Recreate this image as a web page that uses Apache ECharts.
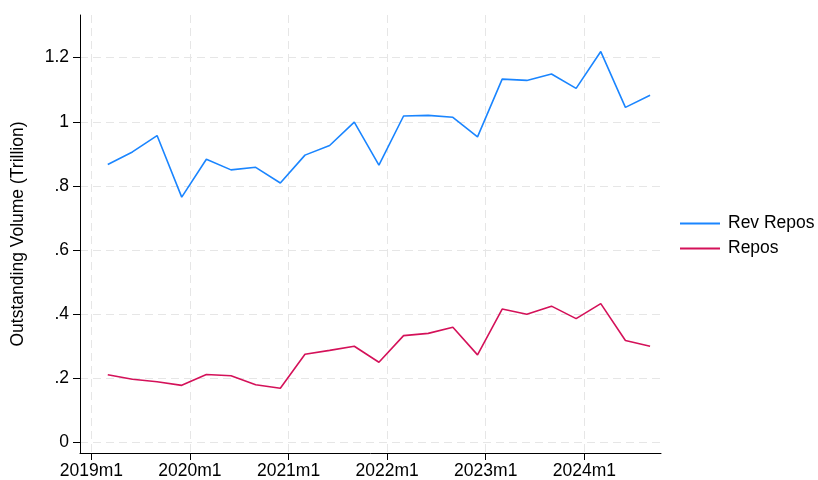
<!DOCTYPE html>
<html>
<head>
<meta charset="utf-8">
<script src="https://cdn.jsdelivr.net/npm/echarts@6/dist/echarts.min.js"></script>
<style>
    html, body {
        margin: 0;
        padding: 0;
        background: #fff;
    }

    #chart {
        width: 818px;
        height: 480px;
    }
</style>
</head>
<body>
<div id="chart"></div>
<script>
// quarter-end months, 2019m3 .. 2024m9
const periods = ['2019m3', '2019m6', '2019m9', '2019m12', '2020m3', '2020m6', '2020m9', '2020m12',
    '2021m3', '2021m6', '2021m9', '2021m12', '2022m3', '2022m6', '2022m9', '2022m12',
    '2023m3', '2023m6', '2023m9', '2023m12', '2024m3', '2024m6', '2024m9']

const revRepos = [0.867, 0.906, 0.957, 0.765, 0.883, 0.850, 0.858, 0.809,
    0.896, 0.926, 0.999, 0.865, 1.018, 1.020, 1.014, 0.953,
    1.133, 1.129, 1.149, 1.104, 1.219, 1.045, 1.083]

const repos = [0.211, 0.197, 0.189, 0.178, 0.212, 0.208, 0.180, 0.169,
    0.275, 0.287, 0.300, 0.250, 0.333, 0.340, 0.359, 0.273,
    0.416, 0.400, 0.425, 0.386, 0.433, 0.318, 0.300]

const xTickLabels = ['2019m1', '2020m1', '2021m1', '2022m1', '2023m1', '2024m1']
const yTickValues = [0, 0.2, 0.4, 0.6, 0.8, 1, 1.2]
const yTickLabels = ['0', '.2', '.4', '.6', '.8', '1', '1.2']

// months counted from 2019m1
const toMonth = (s) => {
    const [y, m] = s.split('m').map(Number)
    return (y - 2019) * 12 + (m - 1)
}

const xTickValues = xTickLabels.map(toMonth)
const xLabelMap = {}
xTickValues.forEach((v, i) => { xLabelMap[v] = xTickLabels[i] })
const yLabelMap = {}
yTickValues.forEach((v, i) => { yLabelMap[v] = yTickLabels[i] })

const FONT = 'Arial, Liberation Sans, sans-serif'
const FS = 17.5
const gridLine = {
    show: true,
    lineStyle: {color: '#e6e6e6', width: 1, type: [8, 5]}
}

const chart = echarts.init(document.getElementById('chart'))
chart.setOption({
    animation: false,
    textStyle: {fontFamily: FONT},
    grid: {left: 80, right: 157, top: 15, bottom: 25.5, containLabel: false},
    legend: {
        orient: 'vertical',
        left: 675,
        top: 209,
        icon: 'rect',
        itemWidth: 40,
        itemHeight: 2,
        itemGap: 6,
        textStyle: {fontFamily: FONT, fontSize: FS, color: '#000', lineHeight: 19, padding: [0, 0, 0, 3]},
        data: ['Rev Repos', 'Repos']
    },
    xAxis: {
        type: 'value',
        min: -1.38,
        max: 69.33,
        axisLine: {show: true, onZero: false, lineStyle: {color: '#000', width: 1}},
        axisTick: {show: true, length: 7, customValues: xTickValues, lineStyle: {color: '#000'}},
        axisLabel: {
            customValues: xTickValues,
            formatter: (v) => xLabelMap[v],
            fontSize: FS,
            color: '#000',
            margin: 9
        },
        splitLine: gridLine
    },
    yAxis: {
        type: 'value',
        min: -0.033,
        max: 1.333,
        name: 'Outstanding Volume (Trillion)',
        nameLocation: 'middle',
        nameGap: 53,
        nameTextStyle: {fontFamily: FONT, fontSize: FS, color: '#000'},
        axisLine: {show: true, onZero: false, lineStyle: {color: '#000', width: 1}},
        axisTick: {show: true, length: 7, customValues: yTickValues, lineStyle: {color: '#000'}},
        axisLabel: {
            customValues: yTickValues,
            formatter: (v) => yLabelMap[v] !== undefined ? yLabelMap[v] : String(v),
            fontSize: FS,
            color: '#000',
            margin: 11
        },
        splitLine: gridLine
    },
    series: [
        {
            name: 'Rev Repos',
            type: 'line',
            symbol: 'none',
            color: '#1a85ff',
            lineStyle: {width: 1.6},
            data: periods.map((p, i) => [toMonth(p), revRepos[i]])
        },
        {
            name: 'Repos',
            type: 'line',
            symbol: 'none',
            color: '#d41159',
            lineStyle: {width: 1.6},
            data: periods.map((p, i) => [toMonth(p), repos[i]])
        }
    ]
})
</script>
</body>
</html>
